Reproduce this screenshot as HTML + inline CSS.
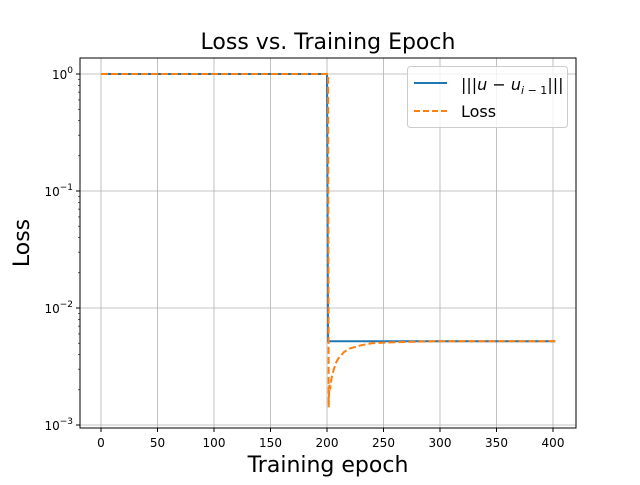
<!DOCTYPE html>
<html><head><meta charset="utf-8"><style>
body{margin:0;background:#fff;}
svg{font-family:"DejaVu Sans","Liberation Sans",sans-serif;}
</style></head><body>
<svg id="c" width="640" height="480">
<rect width="640" height="480" fill="#fff"/>
<text x="328" y="49" font-size="22" text-anchor="middle">Loss vs. Training Epoch</text>
<text x="328" y="472" font-size="22" text-anchor="middle">Training epoch</text>
<text transform="translate(29,243) rotate(-90)" font-size="22" text-anchor="middle">Loss</text>
<g id="grid"></g>
<g id="series"></g>
<rect x="80" y="58" width="496" height="370" fill="none" stroke="#000" stroke-width="1"/>
<g id="ticks"></g>
<g>
<rect x="407.5" y="66.5" width="160" height="61" rx="3" fill="#fff" fill-opacity="0.8" stroke="#ccc"/>
<line x1="414" y1="83" x2="447" y2="83" stroke="#1f77b4" stroke-width="2"/>
<text x="461" y="90" font-size="16">|||<tspan font-style="italic">u</tspan> − <tspan font-style="italic">u</tspan><tspan font-size="11" dy="4" font-style="italic">i</tspan><tspan font-size="11"> − 1</tspan><tspan dy="-4">|||</tspan></text>
<line x1="414" y1="111" x2="447" y2="111" stroke="#ff7f0e" stroke-width="2" stroke-dasharray="6,3"/>
<text x="461" y="117" font-size="16">Loss</text>
</g>
</svg>
<script>
const xTicks=[0,50,100,150,200,250,300,350,400];
const yTickExps=[0,-1,-2,-3];
const normEpochs=[0,200,201,402];
const normValues=[1,1,0.0052,0.0052];
const lossEpochs=[0,201,201.5,202,203,204,206,208,210,215,220,230,240,260,300,402];
const lossValues=[1,1,0.00142,0.0022,0.0021,0.0025,0.0030,0.0034,0.0037,0.0042,0.0045,0.0048,0.0050,0.0051,0.0052,0.0052];
const NS="http://www.w3.org/2000/svg";
const sx=v=>101+v*(553-101)/400;
const sy=v=>74-Math.log10(v)*117;
function mk(tag,attrs,parent){const e=document.createElementNS(NS,tag);for(const k in attrs)e.setAttribute(k,attrs[k]);document.getElementById(parent).appendChild(e);return e;}
xTicks.forEach(t=>{
 const g=mk('line',{x1:sx(t),x2:sx(t),y1:58,y2:428,stroke:'#b0b0b0','stroke-width':0.8},'grid');
 
 
 const tk=mk('line',{x1:sx(t),x2:sx(t),y1:428,y2:432,stroke:'#000'},'ticks');
 
 
 const tx=mk('text',{x:sx(t),y:447,'font-size':12,'text-anchor':'middle'},'ticks');
 tx.textContent=t;
 
 
});
yTickExps.forEach(e=>{
 const y=sy(Math.pow(10,e));
 const g=mk('line',{x1:80,x2:576,y1:y,y2:y,stroke:'#b0b0b0','stroke-width':0.8},'grid');
 
 
 const tk=mk('line',{x1:76,x2:80,y1:y,y2:y,stroke:'#000'},'ticks');
 
 
 const tx=mk('text',{x:73,y:y+5,'font-size':12,'text-anchor':'end'},'ticks');
 tx.innerHTML='10<tspan font-size="9" dy="-6">'+(e<0?'−'+(-e):e)+'</tspan>';
 
 
 for(let m=2;m<=9&&e>-3;m++){
  const yy=sy(m*Math.pow(10,e-1));
  const mt=mk('line',{x1:78,x2:80,y1:yy,y2:yy,stroke:'#000','stroke-width':0.6},'ticks');
  
  
 }
});
function path(xs,ys){return xs.map((x,i)=>(i?'L':'M')+sx(x).toFixed(1)+','+sy(ys[i]).toFixed(1)).join(' ');}
const p1=mk('path',{d:path(normEpochs,normValues),fill:'none',stroke:'#1f77b4','stroke-width':2},'series');


const p2=mk('path',{d:path(lossEpochs,lossValues),fill:'none',stroke:'#ff7f0e','stroke-width':2,'stroke-dasharray':'7,3'},'series');


</script>
</body></html>
